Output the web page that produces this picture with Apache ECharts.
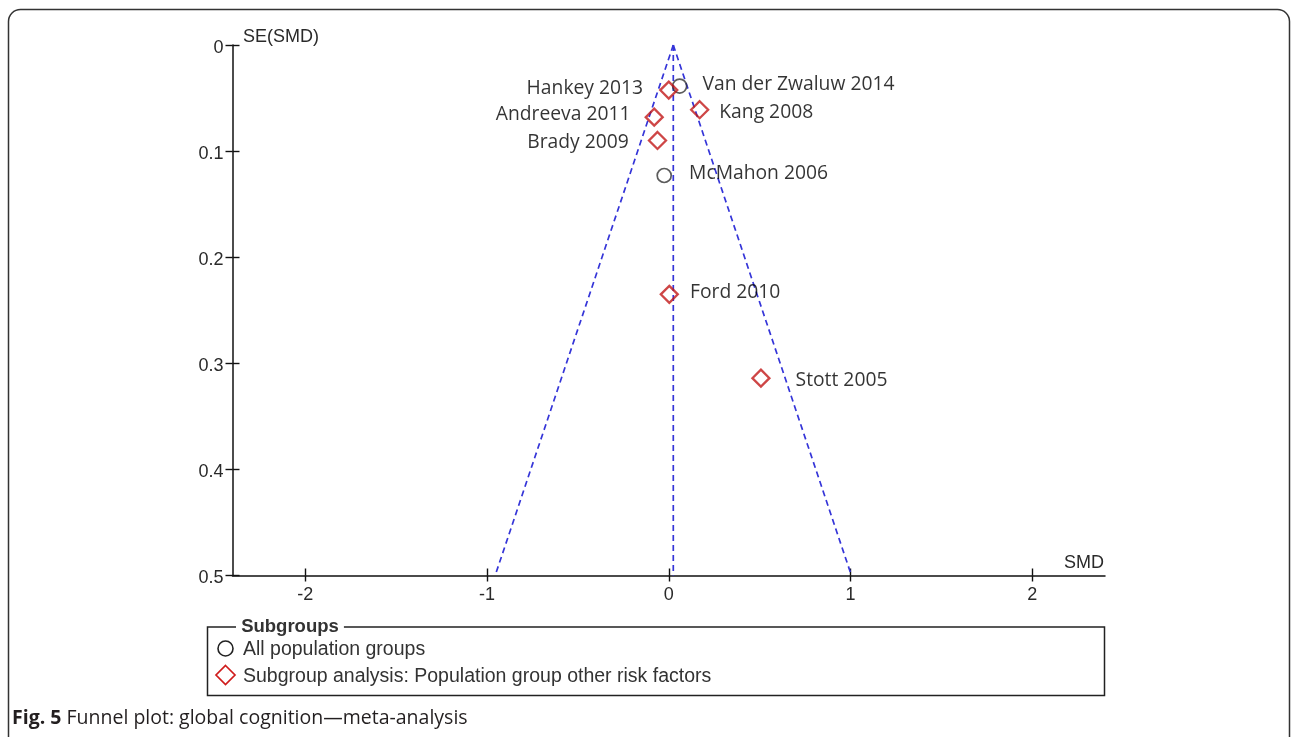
<!DOCTYPE html>
<html>
<head>
<meta charset="utf-8">
<script src="https://cdn.jsdelivr.net/npm/echarts@6/dist/echarts.min.js"></script>
<style>
  html, body { margin: 0; padding: 0; background: #fff; }
  #chart { width: 1292px; height: 737px; }
</style>
</head>
<body>
<div id="chart"></div>
<script>
// Studies in the "All population groups" subgroup: [SMD, SE(SMD)]
const allGroupNames = ['Van der Zwaluw 2014', 'McMahon 2006'];
const allGroupPoints = [[0.06, 0.0387], [-0.025, 0.123]];

// Studies in "Subgroup analysis: Population group other risk factors"
const subGroupNames = ['Hankey 2013', 'Kang 2008', 'Andreeva 2011', 'Brady 2009', 'Ford 2010', 'Stott 2005'];
const subGroupPoints = [[0.0, 0.0425], [0.17, 0.061], [-0.08, 0.068], [-0.062, 0.09], [0.003, 0.235], [0.507, 0.314]];

// Pooled estimate line and 95% pseudo-confidence limits of the funnel
const pooledLine = [[0.025, 0], [0.025, 0.5]];
const funnelLeft = [[0.025, 0], [-0.955, 0.5]];
const funnelRight = [[0.025, 0], [1.005, 0.5]];

// Axis ticks
const xTicks = [-2, -1, 0, 1, 2];
const yTicks = [0, 0.1, 0.2, 0.3, 0.4, 0.5];

// Label placement per study: side of the marker and small nudges
const labelPlacement = {
  'Van der Zwaluw 2014': { side: 'right', dist: 15, dy: -2 },
  'McMahon 2006': { side: 'right', dist: 17, dy: -2 },
  'Hankey 2013': { side: 'left', dist: 16, dy: -2 },
  'Kang 2008': { side: 'right', dist: 10, dy: 3 },
  'Andreeva 2011': { side: 'left', dist: 14, dy: -3 },
  'Brady 2009': { side: 'left', dist: 19, dy: 2 },
  'Ford 2010': { side: 'right', dist: 11, dy: -2 },
  'Stott 2005': { side: 'right', dist: 25, dy: 2 }
};

const labelFont = { fontFamily: 'Open Sans', fontSize: 19.3, color: '#000' };

function withLabels(names, points) {
  return points.map((p, i) => {
    const pl = labelPlacement[names[i]];
    return {
      name: names[i],
      value: p,
      label: {
        show: true,
        position: pl.side,
        distance: pl.dist,
        offset: [0, pl.dy],
        formatter: '{b}',
        ...labelFont
      }
    };
  });
}

const axisText = { fontFamily: 'Liberation Sans', fontSize: 18, color: '#2a2a2a' };
const dashed = { color: '#3535d8', width: 1.7, type: [6, 4] };
const tickStyle = { color: '#111', width: 1.4 };

const chart = echarts.init(document.getElementById('chart'), null, { renderer: 'canvas' });

const xAxisBase = {
  type: 'value', min: -2.4, max: 2.4, interval: 1, position: 'bottom',
  splitLine: { show: false },
  axisLine: { onZero: false, lineStyle: { color: '#111', width: 1.5 } }
};
const yAxisBase = {
  type: 'value', min: 0, max: 0.5, interval: 0.1, inverse: true, position: 'left',
  splitLine: { show: false },
  axisLine: { onZero: false, lineStyle: { color: '#111', width: 1.5 } }
};

chart.setOption({
  animation: false,
  backgroundColor: '#fff',
  grid: { left: 232.5, right: 187, top: 45, bottom: 161.5, containLabel: false },
  xAxis: [
    {
      ...xAxisBase,
      axisTick: { show: true, length: 6, lineStyle: tickStyle, customValues: xTicks },
      axisLabel: { ...axisText, margin: 11, customValues: xTicks, formatter: v => String(v) }
    },
    {
      ...xAxisBase,
      axisLine: { show: false, onZero: false },
      axisTick: { show: true, inside: true, length: 7, lineStyle: tickStyle, customValues: xTicks },
      axisLabel: { show: false }
    }
  ],
  yAxis: [
    {
      ...yAxisBase,
      axisTick: { show: true, length: 7, lineStyle: tickStyle, customValues: yTicks },
      axisLabel: {
        ...axisText, margin: 9, customValues: yTicks,
        formatter: v => '{t|' + String(Math.round(v * 10) / 10) + '}',
        rich: { t: { ...axisText, padding: [6, 0, 0, 0] } }
      }
    },
    {
      ...yAxisBase,
      offset: 0,
      axisLine: { show: false, onZero: false },
      axisTick: { show: true, inside: true, length: 7, lineStyle: tickStyle, customValues: yTicks },
      axisLabel: { show: false }
    }
  ],
  series: [
    { type: 'line', data: pooledLine, symbol: 'none', silent: true, lineStyle: dashed, z: 1 },
    { type: 'line', data: funnelLeft, symbol: 'none', silent: true, lineStyle: dashed, z: 1 },
    { type: 'line', data: funnelRight, symbol: 'none', silent: true, lineStyle: dashed, z: 1 },
    {
      name: 'All population groups',
      type: 'scatter',
      symbol: 'circle',
      symbolSize: 14,
      itemStyle: { color: 'rgba(0,0,0,0)', borderColor: '#333', borderWidth: 1.7 },
      data: withLabels(allGroupNames, allGroupPoints),
      z: 3
    },
    {
      name: 'Subgroup analysis: Population group other risk factors',
      type: 'scatter',
      symbol: 'diamond',
      symbolSize: 17,
      itemStyle: { color: 'rgba(0,0,0,0)', borderColor: '#c21818', borderWidth: 2.3 },
      data: withLabels(subGroupNames, subGroupPoints),
      z: 3
    }
  ],
  graphic: [
    // outer figure frame
    {
      type: 'rect', z: 0,
      shape: { x: 8.5, y: 9.5, width: 1281, height: 760, r: 12 },
      style: { fill: 'none', stroke: '#333', lineWidth: 1.5 }
    },
    // axis titles
    { type: 'text', left: 243, top: 28, style: { text: 'SE(SMD)', fill: '#2a2a2a', font: '18px "Liberation Sans"' } },
    { type: 'text', right: 188, top: 554, style: { text: 'SMD', fill: '#2a2a2a', font: '18px "Liberation Sans"' } },
    // legend box
    {
      type: 'rect',
      shape: { x: 207.5, y: 627, width: 897, height: 68.5 },
      style: { fill: 'none', stroke: '#222', lineWidth: 1.5 }
    },
    {
      type: 'text', left: 236, top: 617,
      style: { text: ' Subgroups ', fill: '#333', font: 'bold 18.5px "Liberation Sans"', backgroundColor: '#fff' }
    },
    {
      type: 'circle', shape: { cx: 225.5, cy: 648.5, r: 7.5 },
      style: { fill: 'none', stroke: '#222', lineWidth: 1.6 }
    },
    {
      type: 'text', left: 243, top: 640,
      style: { text: 'All population groups', fill: '#333', font: '19.5px "Liberation Sans"' }
    },
    {
      type: 'polygon', shape: { points: [[225.5, 665.5], [235, 675], [225.5, 684.5], [216, 675]] },
      style: { fill: 'none', stroke: '#d01c1c', lineWidth: 1.7 }
    },
    {
      type: 'text', left: 243, top: 667,
      style: { text: 'Subgroup analysis: Population group other risk factors', fill: '#333', font: '19.5px "Liberation Sans"' }
    },
    // caption
    {
      type: 'text', left: 12, top: 708,
      style: {
        text: '{b|Fig. 5} Funnel plot: global cognition—meta-analysis',
        fill: '#231f20',
        font: '19.5px "Open Sans"',
        rich: { b: { fontWeight: 'bold', fontFamily: 'Open Sans', fontSize: 19.5, fill: '#231f20' } }
      }
    }
  ]
});
</script>
</body>
</html>
